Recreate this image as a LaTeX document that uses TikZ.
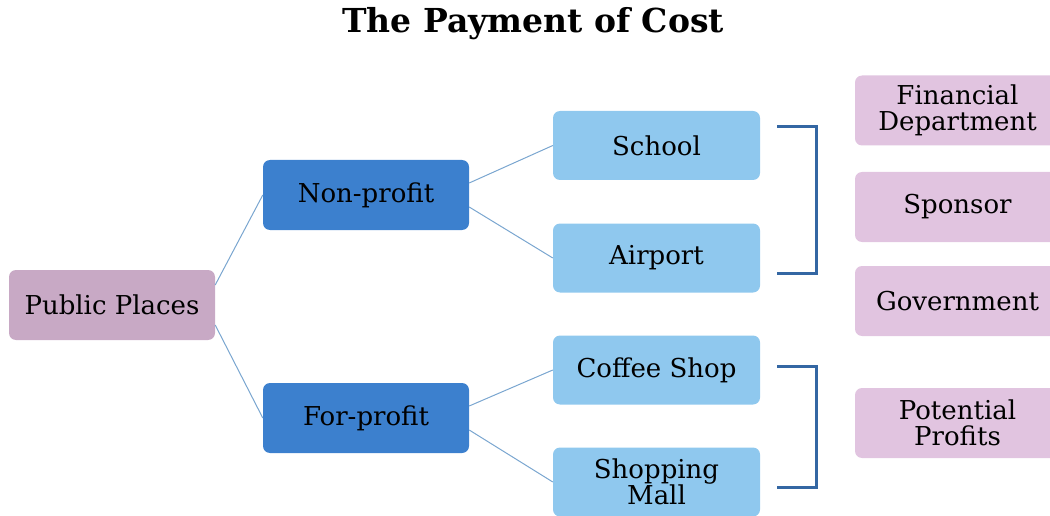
\documentclass[tikz,border=0pt]{standalone}
\usepackage{fontspec}
\setmainfont{DejaVu Serif}
\usetikzlibrary{positioning}

\definecolor{rootc}{HTML}{C8A9C5}
\definecolor{catc}{HTML}{3C80CE}
\definecolor{placec}{HTML}{8FC8EE}
\definecolor{payerc}{HTML}{E1C4E0}
\definecolor{linkc}{HTML}{7AA6D0}
\definecolor{brc}{HTML}{3467A3}

\begin{document}
\begin{tikzpicture}[x=1pt,y=-1pt,
box/.style={rectangle,rounded corners=7pt,inner sep=0pt,align=center,font=\fontsize{26}{26}\selectfont},
root/.style={box,fill=rootc,minimum width=206pt,minimum height=70pt},
cat/.style={box,fill=catc,minimum width=206pt,minimum height=70pt},
place/.style={box,fill=placec,minimum width=207pt,minimum height=69pt},
payer/.style={box,fill=payerc,minimum width=205pt,minimum height=70pt},
link/.style={draw=linkc,line width=1pt},
bracket/.style={draw=brc,line width=3pt}]
	\useasboundingbox (0,0) rectangle (1050,516);
	\clip (0,0) rectangle (1050,516);

	%title
	\node[font=\fontsize{33}{36}\selectfont\bfseries] at (533,24) (title) {The Payment of Cost};

	%tree
	\node[root] at (112,305) (pp) {Public Places};
	\node[cat] at (366,195) (np) {Non-profit};
	\node[cat] at (366,418) (fp) {For-profit};
	\node[place] at (656.5,145.5) (sch) {School};
	\node[place] at (656.5,258) (air) {Airport};
	\node[place] at (656.5,370) (cof) {Coffee Shop};
	\node[place] at (656.5,482) (mall) {Shopping\\Mall};

	%who pays
	\node[payer] at (957.5,110.5) (fin) {Financial\\Department};
	\node[payer] at (957.5,207) (spo) {Sponsor};
	\node[payer] at (957.5,301) (gov) {Government};
	\node[payer] at (957.5,423) (pot) {Potential\\Profits};

	%links
	\draw[link] ([yshift=20pt]pp.east) -- (np.west);
	\draw[link] ([yshift=-20pt]pp.east) -- (fp.west);
	\draw[link] ([yshift=12pt]np.east) -- (sch.west);
	\draw[link] ([yshift=-12pt]np.east) -- (air.west);
	\draw[link] ([yshift=12pt]fp.east) -- (cof.west);
	\draw[link] ([yshift=-12pt]fp.east) -- (mall.west);

	%brackets
	\coordinate (b1) at ([xshift=17pt,yshift=18.5pt]sch.east);
	\coordinate (b2) at ([xshift=17pt,yshift=-15pt]air.east);
	\draw[bracket] (b1) -- ++(39,0) |- (b2);
	\coordinate (b3) at ([xshift=17pt,yshift=4pt]cof.east);
	\coordinate (b4) at ([xshift=17pt,yshift=-5pt]mall.east);
	\draw[bracket] (b3) -- ++(39,0) |- (b4);
\end{tikzpicture}
\end{document}
